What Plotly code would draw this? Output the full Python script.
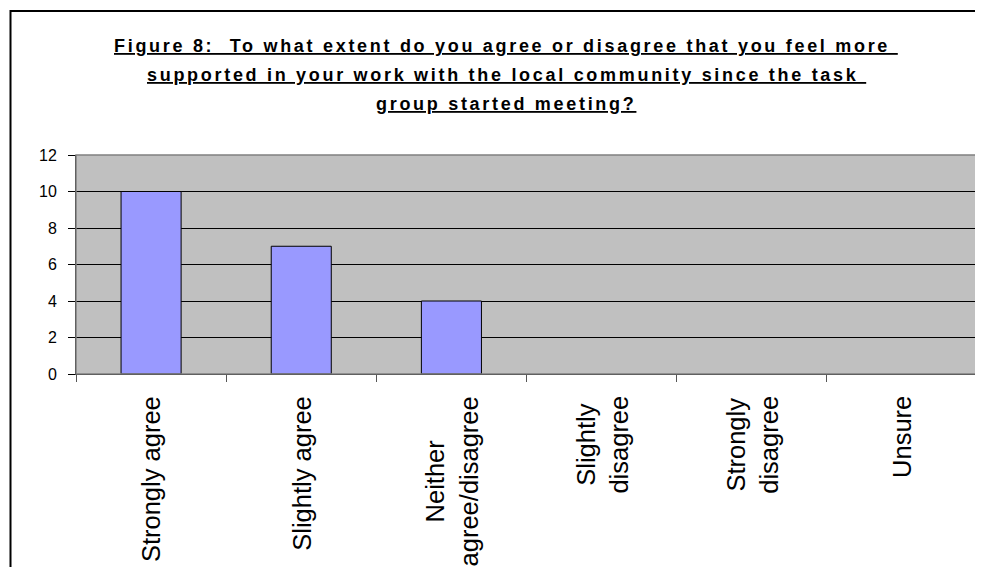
import plotly.graph_objects as go

# ---- data ----
CATEGORIES = ["Strongly agree", "Slightly agree", "Neither agree/disagree",
              "Slightly disagree", "Strongly disagree", "Unsure"]
CATEGORY_LABELS = ["Strongly agree", "Slightly agree", "Neither<br>agree/disagree",
                   "Slightly<br>disagree", "Strongly<br>disagree", "Unsure"]
VALUES = [10, 7, 4, 0, 0, 0]
Y_TICKS = [0, 2, 4, 6, 8, 10, 12]
TITLE_LINES = [
    "Figure 8:\u00a0 To what extent do you agree or disagree that you feel more\u00a0",
    "supported in your work with the local community since the task\u00a0",
    "group started meeting?",
]

# page body adds an 8px margin; work in screen pixels and convert
OFF = 8
W, H = 983 - OFF, 567 - OFF
PLOT_L, PLOT_R, PLOT_T, PLOT_B = 76, 977, 155, 374  # screen px
ML = PLOT_L - OFF
MT = PLOT_T - OFF
PW = PLOT_R - PLOT_L
PH = PLOT_B - PLOT_T
MR = W - ML - PW
MB = H - MT - PH


def px_x(p):
    return (p - PLOT_L) / PW


def px_y(p):
    return (PLOT_B - p) / PH


FONT = "Liberation Sans, Arial, sans-serif"

fig = go.Figure()
fig.add_trace(go.Bar(
    x=CATEGORIES, y=VALUES, width=0.4,
    marker=dict(color="#9999FF",
                line=dict(color="black", width=[1 if v else 0 for v in VALUES])),
    hoverinfo="x+y",
))

annotations = []
# category labels (rotated, centred lines)
for cat, lab in zip(CATEGORIES, CATEGORY_LABELS):
    annotations.append(dict(
        x=cat, xref="x", y=0, yref="y", yanchor="top", xanchor="center",
        text=lab, textangle=-90, align="center", showarrow=False,
        yshift=-20, font=dict(family=FONT, size=25.5, color="black"),
    ))

# title lines
title_centers = [46, 75, 104]
for line, cy in zip(TITLE_LINES, title_centers):
    annotations.append(dict(
        x=px_x(506), xref="paper", y=px_y(cy), yref="paper",
        xanchor="center", yanchor="middle", showarrow=False,
        text='<span style="letter-spacing:2.7px"><b><u>' + line + '</u></b></span>',
        font=dict(family=FONT, size=18, color="black"),
    ))

shapes = [
    # plot area border
    dict(type="rect", xref="paper", yref="paper", x0=0, x1=1, y0=0, y1=1,
         line=dict(color="#808080", width=1.5), layer="above"),
    # outer chart border
    dict(type="rect", xref="paper", yref="paper",
         x0=px_x(10.5), x1=px_x(1100), y0=px_y(800), y1=px_y(11),
         line=dict(color="black", width=2)),
]

fig.update_layout(
    width=W, height=H,
    margin=dict(l=ML, r=MR, t=MT, b=MB, pad=0),
    paper_bgcolor="white", plot_bgcolor="#C0C0C0",
    showlegend=False,
    annotations=annotations,
    shapes=shapes,
)
fig.update_xaxes(
    type="category", categoryorder="array", categoryarray=CATEGORIES,
    showticklabels=False, ticks="outside", tickson="boundaries",
    ticklen=7, tickcolor="#555555", tickwidth=1,
    showline=True, linecolor="black", linewidth=1, showgrid=False,
)
fig.update_yaxes(
    range=[0, 12], tickvals=Y_TICKS, ticks="outside", ticklen=7,
    tickcolor="black", tickwidth=1, showline=True, linecolor="black",
    linewidth=1, showgrid=True, gridcolor="black", gridwidth=1,
    zeroline=False, ticklabelstandoff=8,
    tickfont=dict(family=FONT, size=16, color="black"),
)

fig.write_html("out.html")
